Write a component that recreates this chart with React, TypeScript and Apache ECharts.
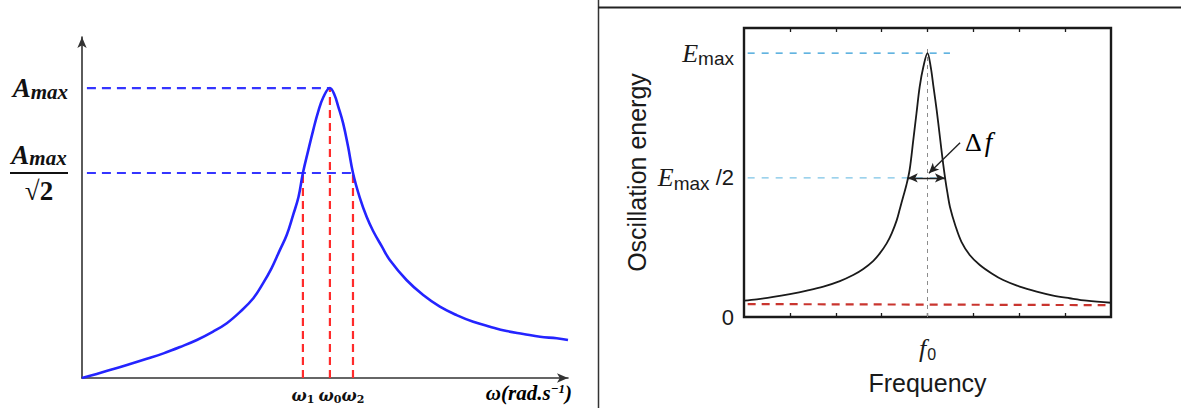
import React, { useEffect, useRef } from "react";
import * as echarts from "echarts";

// ---------- Left panel: amplitude resonance ----------
const L_OMEGA = [0, 0.3, 0.64, 0.98, 1.32, 1.66, 2.0, 2.34, 2.67, 2.95, 3.22, 3.49, 3.69, 3.86, 4.03, 4.17, 4.3, 4.41, 4.5, 4.61, 4.71, 4.81, 4.92, 5.05, 5.14, 5.22, 5.32, 5.42, 5.52, 5.66, 5.8, 5.93, 6.11, 6.27, 6.61, 6.95, 7.29, 7.63, 7.97, 8.31, 8.65, 8.99, 9.33, 9.67, 9.9];
const L_AMP = [0, 0.014, 0.031, 0.048, 0.066, 0.085, 0.107, 0.131, 0.16, 0.189, 0.228, 0.275, 0.327, 0.378, 0.441, 0.493, 0.562, 0.624, 0.707, 0.786, 0.855, 0.918, 0.97, 1.0, 0.978, 0.936, 0.878, 0.798, 0.707, 0.621, 0.555, 0.507, 0.453, 0.407, 0.338, 0.286, 0.246, 0.217, 0.194, 0.177, 0.162, 0.152, 0.142, 0.137, 0.131];
const A_MAX = 1;
const A_HALF = 0.707;
const W1 = 4.5;
const W0 = 5.05;
const W2 = 5.52;
const W_MARKS = [W1, W0, W2];
const W_LABELS = ["1", "0", "2"];
const L_DASH_START = 0.1;

// ---------- Right panel: energy resonance ----------
const R_FREQ = [0, 0.28, 0.64, 1.0, 1.37, 1.73, 2.09, 2.38, 2.6, 2.82, 2.96, 3.11, 3.22, 3.33, 3.4, 3.47, 3.54, 3.61, 3.69, 3.76, 3.83, 3.91, 4.0, 4.07, 4.13, 4.2, 4.27, 4.34, 4.39, 4.43, 4.49, 4.61, 4.74, 4.92, 5.14, 5.4, 5.65, 6.01, 6.38, 6.74, 7.1, 7.47, 8.0];
const R_ENERGY = [0.062, 0.067, 0.076, 0.087, 0.1, 0.115, 0.136, 0.159, 0.182, 0.213, 0.241, 0.279, 0.317, 0.367, 0.411, 0.456, 0.5, 0.557, 0.67, 0.772, 0.873, 0.948, 1.0, 0.948, 0.873, 0.784, 0.683, 0.582, 0.519, 0.475, 0.417, 0.345, 0.285, 0.235, 0.197, 0.165, 0.14, 0.115, 0.096, 0.081, 0.071, 0.062, 0.054];
const E_MAX = 1;
const E_HALF = 0.527;
const F0 = 4;
const F_LEFT_HALF = 3.57;
const F_RIGHT_HALF = 4.38;
const R_TICKS = [1, 2, 3, 4, 5, 6, 7];
const BASELINE_X = [0.08, 7.88];
const BASELINE_Y = [0.049, 0.045];
const EMAX_LINE_END = 4.49;
const F0_LINE_TOP = 1.03;
const DF_ARROW_FROM = [4.71, 0.66];
const DF_ARROW_TO = [4.03, 0.545];

const SERIF = "'Liberation Serif', 'DejaVu Serif', serif";
const WIDE_SERIF = "'DejaVu Serif', 'Liberation Serif', serif";
const SANS = "'Liberation Sans', Arial, sans-serif";

const near = (a: number, b: number) => Math.abs(a - b) < 1e-6;

export default function App() {
  const ref = useRef<HTMLDivElement>(null);

  useEffect(() => {
    const chart = echarts.init(ref.current!, null, { renderer: "svg" });

    const leftCurve = L_OMEGA.map((x, i) => [x, L_AMP[i]]);
    const rightCurve = R_FREQ.map((x, i) => [x, R_ENERGY[i]]);

    const redVerticals = [
      [W1, A_HALF],
      [W0, A_MAX],
      [W2, A_HALF],
    ].map(([x, top]) => ({
      type: "line",
      xAxisIndex: 0,
      yAxisIndex: 0,
      data: [
        [x, 0],
        [x, top],
      ],
      showSymbol: false,
      silent: true,
      lineStyle: { color: "#ff2b2b", width: 2.2, type: [8, 5] },
      z: 3,
    }));

    const boldItalic = {
      fontFamily: SERIF,
      fontWeight: "bold",
      fontStyle: "italic",
      color: "#111",
    };

    const option: any = {
      animation: false,
      backgroundColor: "#ffffff",
      grid: [
        { left: 82, right: 613, top: 37, bottom: 30, outerBoundsMode: "none" },
        {
          left: 744,
          right: 70,
          top: 28,
          bottom: 91,
          show: true,
          borderColor: "#1a1a1a",
          borderWidth: 2.4,
          backgroundColor: "transparent",
          outerBoundsMode: "none",
        },
      ],
      xAxis: [
        {
          gridIndex: 0,
          type: "value",
          min: 0,
          max: 9.9,
          axisLine: {
            show: true,
            onZero: false,
            symbol: ["none", "arrow"],
            symbolSize: [7, 11],
            lineStyle: { color: "#333", width: 1.6 },
          },
          axisTick: { show: false },
          splitLine: { show: false },
          axisLabel: {
            customValues: W_MARKS,
            margin: 7,
            formatter: (v: number) => {
              const i = W_MARKS.findIndex((m) => near(m, v));
              return `{w|ω}{n|${W_LABELS[i] ?? ""}}`;
            },
            rich: {
              w: { fontFamily: WIDE_SERIF, fontWeight: "bold", fontStyle: "italic", color: "#111", fontSize: 16, lineHeight: 20 },
              n: { fontFamily: WIDE_SERIF, fontWeight: "bold", color: "#111", fontSize: 11, lineHeight: 15, verticalAlign: "bottom" },
            },
          },
        },
        {
          gridIndex: 1,
          type: "value",
          min: 0,
          max: 8,
          interval: 1,
          axisLine: { show: false },
          axisTick: {
            show: true,
            inside: true,
            length: 4,
            customValues: R_TICKS,
            lineStyle: { color: "#1a1a1a", width: 1.3 },
          },
          splitLine: { show: false },
          axisLabel: {
            customValues: [F0],
            margin: 17,
            formatter: () => "{f|f}{z|0}",
            rich: {
              f: { fontFamily: SERIF, fontStyle: "italic", fontSize: 26, lineHeight: 28, color: "#1a1a1a" },
              z: { fontFamily: SANS, fontSize: 16, lineHeight: 16, verticalAlign: "bottom", color: "#1a1a1a", padding: [0, 0, 0, 1] },
            },
          },
          name: "Frequency",
          nameLocation: "middle",
          nameGap: 53,
          nameTextStyle: { fontFamily: SANS, fontSize: 25, color: "#1a1a1a" },
        },
        {
          gridIndex: 1,
          type: "value",
          position: "top",
          min: 0,
          max: 8,
          interval: 1,
          axisLine: { show: false },
          axisTick: {
            show: true,
            inside: true,
            length: 4,
            customValues: R_TICKS,
            lineStyle: { color: "#1a1a1a", width: 1.3 },
          },
          axisLabel: { show: false },
          splitLine: { show: false },
        },
      ],
      yAxis: [
        {
          gridIndex: 0,
          type: "value",
          min: 0,
          max: 1.176,
          axisLine: {
            show: true,
            onZero: false,
            symbol: ["none", "arrow"],
            symbolSize: [7, 11],
            lineStyle: { color: "#333", width: 1.6 },
          },
          axisTick: { show: false },
          splitLine: { show: false },
          axisLabel: {
            customValues: [A_HALF, A_MAX],
            margin: 14,
            formatter: (v: number) =>
              near(v, A_MAX) ? "{A|A}{s|max}" : "{A|A}{s|max}\n{bar|}\n{r|√2}",
            rich: {
              A: { ...boldItalic, fontSize: 27, lineHeight: 28, align: "center" },
              s: { ...boldItalic, fontSize: 21, lineHeight: 18, verticalAlign: "bottom", align: "center" },
              bar: { width: 58, height: 2, lineHeight: 8, backgroundColor: "#111", align: "center" },
              r: { ...boldItalic, fontStyle: "normal", fontSize: 27, lineHeight: 28, align: "center" },
            },
          },
        },
        {
          gridIndex: 1,
          type: "value",
          min: 0,
          max: 1.095,
          axisLine: { show: false },
          axisTick: { show: false },
          splitLine: { show: false },
          axisLabel: {
            customValues: [0, E_HALF, E_MAX],
            margin: 10,
            formatter: (v: number) =>
              near(v, 0) ? "{n|0}" : near(v, E_MAX) ? "{E|E}{m|max}" : "{E|E}{m|max}{t| /2}",
            rich: {
              n: { fontFamily: SANS, fontSize: 22, color: "#1a1a1a" },
              E: { fontFamily: SERIF, fontStyle: "italic", fontSize: 26, lineHeight: 30, color: "#1a1a1a" },
              m: { fontFamily: SANS, fontSize: 19, lineHeight: 24, verticalAlign: "bottom", color: "#1a1a1a" },
              t: { fontFamily: SANS, fontSize: 22, lineHeight: 30, color: "#1a1a1a" },
            },
          },
          name: "Oscillation energy",
          nameLocation: "middle",
          nameRotate: 90,
          nameGap: 95,
          nameTextStyle: { fontFamily: SANS, fontSize: 25, color: "#1a1a1a" },
        },
      ],
      series: [
        // ----- left -----
        {
          type: "line",
          xAxisIndex: 0,
          yAxisIndex: 0,
          data: [
            [L_DASH_START, A_MAX],
            [W0, A_MAX],
          ],
          showSymbol: false,
          silent: true,
          lineStyle: { color: "#3535ff", width: 2.2, type: [9, 6] },
          z: 3,
        },
        {
          type: "line",
          xAxisIndex: 0,
          yAxisIndex: 0,
          data: [
            [L_DASH_START, A_HALF],
            [W2, A_HALF],
          ],
          showSymbol: false,
          silent: true,
          lineStyle: { color: "#3535ff", width: 2.2, type: [9, 6] },
          z: 3,
        },
        ...redVerticals,
        {
          type: "line",
          xAxisIndex: 0,
          yAxisIndex: 0,
          data: leftCurve,
          smooth: 0.4,
          showSymbol: false,
          silent: true,
          lineStyle: { color: "#2424ff", width: 2.6 },
          z: 4,
        },
        // ----- right -----
        {
          type: "line",
          xAxisIndex: 1,
          yAxisIndex: 1,
          data: [
            [BASELINE_X[0], E_MAX],
            [EMAX_LINE_END, E_MAX],
          ],
          showSymbol: false,
          silent: true,
          lineStyle: { color: "#2f9bd6", width: 1.3, type: [7, 7] },
        },
        {
          type: "line",
          xAxisIndex: 1,
          yAxisIndex: 1,
          data: [
            [BASELINE_X[0], E_HALF],
            [F_RIGHT_HALF, E_HALF],
          ],
          showSymbol: false,
          silent: true,
          lineStyle: { color: "#7cc3e6", width: 1.3, type: [7, 7] },
        },
        {
          type: "line",
          xAxisIndex: 1,
          yAxisIndex: 1,
          data: [
            [F0, 0],
            [F0, F0_LINE_TOP],
          ],
          showSymbol: false,
          silent: true,
          lineStyle: { color: "#8c8c8c", width: 1, type: [4, 4] },
        },
        {
          type: "line",
          xAxisIndex: 1,
          yAxisIndex: 1,
          data: [
            [BASELINE_X[0], BASELINE_Y[0]],
            [BASELINE_X[1], BASELINE_Y[1]],
          ],
          showSymbol: false,
          silent: true,
          lineStyle: { color: "#c9352f", width: 2.2, type: [8, 6] },
        },
        {
          type: "line",
          xAxisIndex: 1,
          yAxisIndex: 1,
          data: rightCurve,
          smooth: 0.35,
          showSymbol: false,
          silent: true,
          lineStyle: { color: "#1a1a1a", width: 1.8 },
          z: 4,
          markLine: {
            silent: true,
            animation: false,
            label: { show: false },
            symbol: ["arrow", "arrow"],
            symbolSize: [7, 10],
            lineStyle: { color: "#222", width: 1.4, type: "solid" },
            data: [
              [
                { coord: [F_LEFT_HALF, E_HALF] },
                { coord: [F_RIGHT_HALF, E_HALF] },
              ],
              [
                { coord: DF_ARROW_FROM, symbol: "none", lineStyle: { curveness: -0.35, color: "#222", width: 1.4 } },
                { coord: DF_ARROW_TO, symbol: "arrow" },
              ],
            ],
          },
        },
      ],
      graphic: [
        {
          type: "line",
          shape: { x1: 598.5, y1: 0, x2: 598.5, y2: 408 },
          style: { stroke: "#333", lineWidth: 1.5 },
          silent: true,
        },
        {
          type: "line",
          shape: { x1: 598, y1: 7.5, x2: 1181, y2: 7.5 },
          style: { stroke: "#222", lineWidth: 2 },
          silent: true,
        },
        {
          type: "text",
          x: 572,
          y: 393,
          style: {
            text: "{p|ω(}{i|rad.s}{sup|−1}{p|)}",
            align: "right",
            verticalAlign: "middle",
            rich: {
              p: { ...boldItalic, fontSize: 21, lineHeight: 22 },
              i: { ...boldItalic, fontSize: 21, lineHeight: 22 },
              sup: { ...boldItalic, fontSize: 13, lineHeight: 12, verticalAlign: "top" },
            },
          },
          silent: true,
        },
        {
          type: "text",
          x: 965,
          y: 142,
          style: {
            text: "{d|Δ}{f|f}",
            verticalAlign: "middle",
            rich: {
              d: { fontFamily: SERIF, fontSize: 26, color: "#1a1a1a", padding: [0, 3, 0, 0] },
              f: { fontFamily: SERIF, fontStyle: "italic", fontSize: 27, color: "#1a1a1a" },
            },
          },
          silent: true,
        },
      ],
    };

    chart.setOption(option);
    return () => chart.dispose();
  }, []);

  return (
    <div
      ref={ref}
      style={{ position: "fixed", left: 0, top: 0, width: 1181, height: 408, background: "#fff" }}
    />
  );
}
